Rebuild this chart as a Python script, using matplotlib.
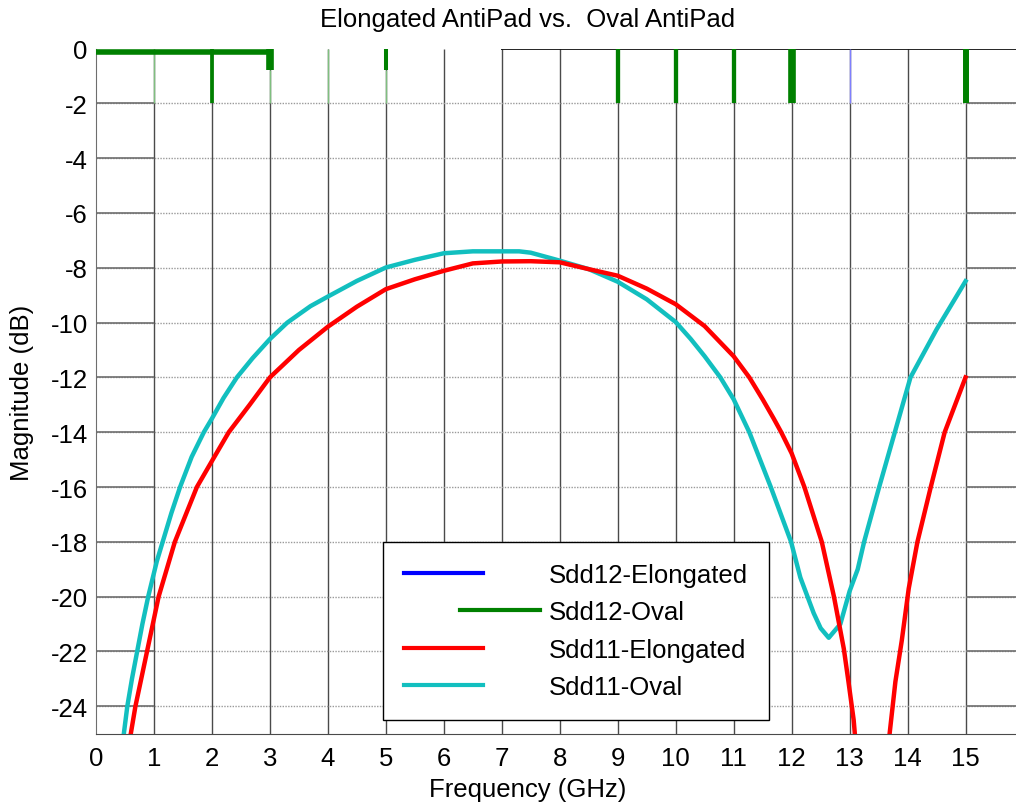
import matplotlib
matplotlib.use("Agg")
import matplotlib.pyplot as plt
from matplotlib.lines import Line2D
from matplotlib.legend_handler import HandlerLine2D

plt.rcParams['font.family'] = ['Liberation Sans', 'DejaVu Sans']
plt.rcParams['axes.unicode_minus'] = False

# Sdd11 - Oval AntiPad (dB)
freq_oval = [0.45, 0.54, 0.62, 0.71, 0.80, 0.90, 1.05, 1.15, 1.30, 1.45, 1.65, 1.86,
             2.00, 2.20, 2.43, 2.70, 3.00, 3.30, 3.70, 4.00, 4.50, 5.00, 5.50, 6.00,
             6.50, 7.00, 7.30, 7.50, 8.00, 8.50, 9.00, 9.50, 10.00, 10.26, 10.50, 10.77,
             11.00, 11.27, 11.64, 11.99, 12.15, 12.38, 12.50, 12.64, 12.84, 13.00, 13.14,
             13.25, 13.51, 13.78, 14.05, 14.50, 15.00]
sdd11_oval = [-25.5, -24.0, -23.0, -22.0, -21.0, -20.0, -18.7, -18.0, -16.95, -16.0, -14.9, -14.0,
              -13.5, -12.75, -12.0, -11.3, -10.6, -10.0, -9.4, -9.05, -8.48, -7.99, -7.71, -7.47,
              -7.40, -7.40, -7.40, -7.45, -7.74, -8.05, -8.51, -9.15, -9.98, -10.6, -11.23, -12.0,
              -12.8, -14.0, -16.0, -18.0, -19.3, -20.6, -21.15, -21.5, -21.0, -19.8, -19.0,
              -18.0, -16.0, -14.0, -12.0, -10.25, -8.49]

# Sdd11 - Elongated AntiPad (dB)
freq_elong = [0.56, 0.68, 0.78, 0.88, 0.98, 1.08, 1.22, 1.36, 1.55, 1.74, 2.00, 2.29,
              2.65, 3.00, 3.50, 4.00, 4.50, 5.00, 5.50, 6.00, 6.50, 7.00, 7.50, 8.00,
              8.50, 9.00, 9.50, 10.00, 10.50, 11.00, 11.27, 11.50, 11.69, 11.82, 12.00, 12.22,
              12.52, 12.73, 12.90, 12.98, 13.07, 13.15, 13.40, 13.62, 13.69, 13.79, 13.90,
              14.02, 14.17, 14.40, 14.64, 15.00]
sdd11_elong = [-25.5, -24.0, -23.0, -22.0, -21.0, -20.0, -19.0, -18.0, -17.0, -16.0, -15.05, -14.0,
               -13.0, -12.0, -11.0, -10.15, -9.42, -8.78, -8.42, -8.11, -7.84, -7.77, -7.76, -7.80,
               -8.05, -8.29, -8.76, -9.33, -10.13, -11.23, -12.0, -12.8, -13.5, -14.0, -14.77, -16.0,
               -18.0, -20.0, -21.9, -23.1, -24.5, -26.5, -31.0, -26.8, -25.0, -23.1, -21.6,
               -19.7, -18.0, -16.0, -14.0, -12.0]

# Sdd12 traces, only the bits that show at the top of the plot
freq_sdd12_oval = [0.0, 3.03]
sdd12_oval = [-0.11, -0.11]
spike_freq = [2, 3, 5, 9, 10, 11, 12, 15]
spike_low = [-2.0, -0.78, -0.78, -2.0, -2.0, -2.0, -2.0, -2.0]
spike_lw = [2.7, 5.5, 2.9, 3.1, 3.1, 3.1, 5.5, 4.3]
faint_freq = [1, 3, 4, 5]
faint_top = [0.0, -0.78, 0.0, -0.78]
sdd12_elong_freq = [13]

labels = ['Sdd12-Elongated', 'Sdd12-Oval', 'Sdd11-Elongated', 'Sdd11-Oval']
xticks = list(range(0, 16))
yticks = list(range(0, -25, -2))
fs = 18.5

fig = plt.figure(figsize=(10.16, 8.04), dpi=100)
ax = fig.add_axes([0.0945, 0.0862, 0.9129, 0.8522])
ax.set_xlim(0, 16)
ax.set_ylim(-25, 0)

# grid, drawn by hand to look like the original
ax.vlines(xticks[1:], -25, 0, color='#4a4a4a', lw=1, zorder=1)
ax.hlines(yticks[1:], 0, 16, color='#9a9a9a', lw=1, linestyles=(0, (1, 1)), zorder=1)
ax.hlines(yticks[1:], 0, 1, color='#6e6e6e', lw=1.2, zorder=1)
ax.hlines(yticks[1:], 15, 16, color='#6e6e6e', lw=1.2, zorder=1)
ax.hlines(0, 6.98, 16, color='k', lw=1.2, zorder=1)
ax.vlines(faint_freq, -2, faint_top, color='#7fbf7f', lw=1, zorder=2)

ax.plot(freq_elong, sdd11_elong, color='#ff0000', lw=3.2, zorder=4)
ax.plot(freq_oval, sdd11_oval, color='#12bfbf', lw=3.2, zorder=3)

ax.plot(freq_sdd12_oval, sdd12_oval, color='#008000', lw=4, solid_capstyle='butt', zorder=5)
for f, lo, w in zip(spike_freq, spike_low, spike_lw):
    ax.vlines(f, lo, 0, color='#008000', lw=w, zorder=5)
ax.vlines(sdd12_elong_freq, -2, 0, color='#7f7fff', lw=1, zorder=5)

ax.set_xticks(xticks)
ax.set_yticks(yticks)
ax.tick_params(length=0, labelsize=fs)
ax.tick_params(axis='x', pad=9)
ax.tick_params(axis='y', pad=6)
for side in ['top', 'right']:
    ax.spines[side].set_visible(False)
ax.spines['left'].set_color('#6e6e6e')
ax.spines['bottom'].set_color('#4a4a4a')


class ShiftedLine(HandlerLine2D):
    def create_artists(self, legend, orig_handle, xdescent, ydescent,
                       width, height, fontsize, trans):
        return super().create_artists(legend, orig_handle, xdescent - 2.2 * fontsize,
                                      ydescent, width, height, fontsize, trans)


handles = [Line2D([], [], color='#0000ff', lw=3),
           Line2D([], [], color='#008000', lw=3),
           Line2D([], [], color='#ff0000', lw=3),
           Line2D([], [], color='#12bfbf', lw=3)]
leg = ax.legend(handles, labels, loc='upper left', bbox_to_anchor=(4.955, -18.02),
                bbox_transform=ax.transData, borderaxespad=0, fontsize=fs,
                handlelength=3.1, handletextpad=2.55, borderpad=0.8, labelspacing=0.52,
                fancybox=False, framealpha=1, handler_map={handles[1]: ShiftedLine()})
leg.get_frame().set_edgecolor('k')
leg.get_frame().set_linewidth(1)

fig.text(528 / 1016, 1 - 20 / 804, 'Elongated AntiPad vs.  Oval AntiPad',
         ha='center', va='center', fontsize=fs)
fig.text(528 / 1016, 1 - 790 / 804, 'Frequency (GHz)', ha='center', va='center', fontsize=fs)
fig.text(22 / 1016, 1 - 393 / 804, 'Magnitude (dB)', ha='center', va='center',
         rotation=90, fontsize=fs)

fig.savefig('out.png', dpi=100)
